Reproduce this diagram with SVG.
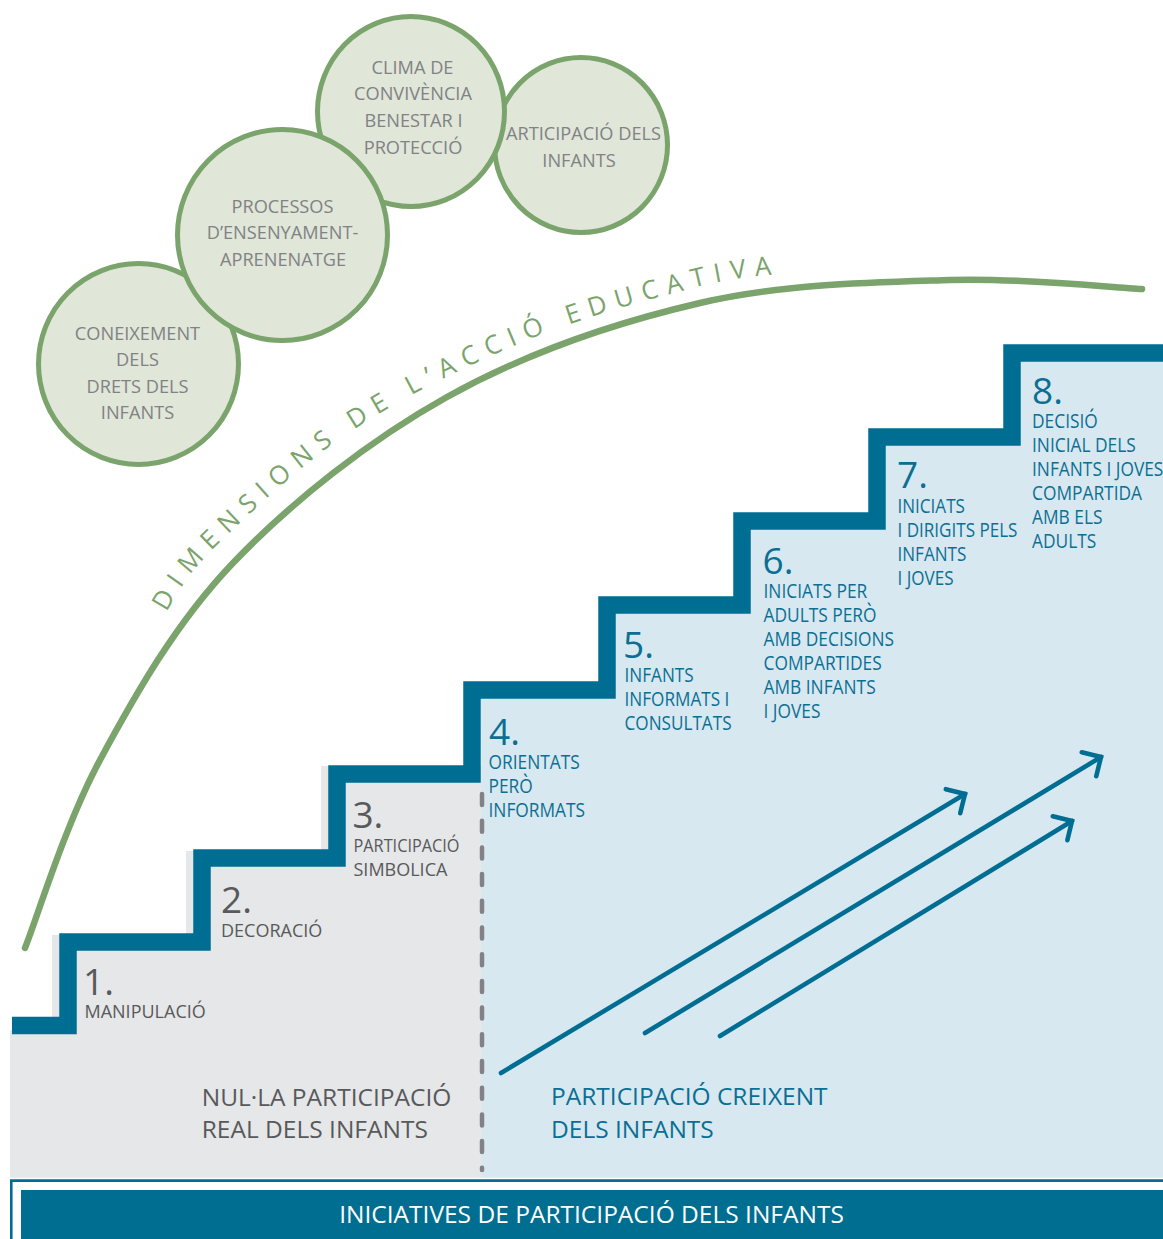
<svg xmlns="http://www.w3.org/2000/svg" width="1163" height="1239" viewBox="0 0 1163 1239">
<defs>
<style>
text{font-family:"Open Sans","Liberation Sans",sans-serif}
.ct{font-size:18.2px;fill:#808285;text-anchor:middle}
.circ{fill:#e0e6d8;stroke:#7aa46b;stroke-width:5}
.num{font-size:37px}
.gnum{fill:#58595b}
.bnum{fill:#0b6f93}
.gl{font-size:18px;fill:#58595b}
.bl{font-size:19.5px;fill:#0b6f93}
.big{font-size:24.5px}
.arr{fill:none;stroke:#006e93;stroke-width:4.6;stroke-linecap:round;marker-end:url(#chev)}
</style>
<marker id="chev" markerUnits="userSpaceOnUse" viewBox="-20 -20 25 40" markerWidth="25" markerHeight="40" refX="0" refY="0" orient="auto" overflow="visible">
<path d="M-14,-14 L0,0 L-14,14" fill="none" stroke="#006e93" stroke-width="4.6" stroke-linecap="round" stroke-linejoin="miter"/>
</marker>
<path id="textArc" d="M166,612 C174,601.3 183.3,578 214,548 C244.7,518 298.5,466.3 350,432 C401.5,397.7 465.2,366.2 523,342 C580.8,317.8 651,298.7 697,287 C743,275.3 765.2,276.2 799,272 C832.8,267.8 883.2,263.7 900,262"/>
</defs>

<!-- staircase background fills -->
<g id="stairs-bg">
<polygon points="10,1030 52,1030 52,935 186,935 186,851 321,851 321,766 482,766 482,1177.7 10,1177.7" fill="#e6e7e8"/>
<polygon points="481,690 607,690 607,605 742,605 742,521 877,521 877,437 1012,437 1012,353 1163,353 1163,1177.7 482,1177.7" fill="#d8e8f1"/>
<line x1="482" y1="794" x2="482" y2="1170" stroke="#808285" stroke-width="4.5" stroke-linecap="round" stroke-dasharray="11 15.7"/>
<polyline points="12,1025.5 68,1025.5 68,942 202,942 202,858 337,858 337,774 472,774 472,690 607,690 607,605 742,605 742,521 877,521 877,437 1012,437 1012,353 1170,353" fill="none" stroke="#006e93" stroke-width="17.5" stroke-linejoin="miter"/>
</g>

<!-- arc -->
<g id="arc">
<path d="M25,948 C37.5,916.7 65.3,824.2 100,760 C134.7,695.8 175.2,623.5 233,563 C290.8,502.5 369.2,440.3 447,397 C524.8,353.7 616.2,322.5 700,303 C783.8,283.5 876.3,282.3 950,280 C1023.7,277.7 1110,287.5 1142,289" fill="none" stroke="#7aa46b" stroke-width="6.5" stroke-linecap="round"/>
<text font-size="26" fill="#7aa46b" letter-spacing="8.9"><textPath href="#textArc">DIMENSIONS DE L’ACCIÓ EDUCATIVA</textPath></text>
</g>

<!-- circles -->
<g id="c-participacio">
<ellipse class="circ" cx="581" cy="145" rx="86.5" ry="87.5"/>
<text class="ct" x="506" y="140" style="text-anchor:start">ARTICIPACIÓ DELS</text>
<text class="ct" x="579" y="167">INFANTS</text>
</g>
<g id="c-clima">
<ellipse class="circ" cx="411" cy="111.5" rx="93.5" ry="95"/>
<text class="ct" x="412.5" y="74">CLIMA DE</text>
<text class="ct" x="413" y="100">CONVIVÈNCIA</text>
<text class="ct" x="413.5" y="127">BENESTAR I</text>
<text class="ct" x="413" y="154">PROTECCIÓ</text>
</g>
<g id="c-coneixement">
<ellipse class="circ" cx="138.5" cy="364" rx="100" ry="100.5"/>
<text class="ct" x="137.5" y="340">CONEIXEMENT</text>
<text class="ct" x="137.5" y="366">DELS</text>
<text class="ct" x="137.5" y="393">DRETS DELS</text>
<text class="ct" x="137.5" y="419">INFANTS</text>
</g>
<g id="c-processos">
<ellipse class="circ" cx="282.5" cy="235" rx="105" ry="105.5"/>
<text class="ct" x="282.5" y="213">PROCESSOS</text>
<text class="ct" x="282.5" y="239">D’ENSENYAMENT-</text>
<text class="ct" x="283" y="266">APRENENATGE</text>
</g>

<!-- steps -->
<g id="step1">
<text class="num gnum" x="83" y="995">1.</text>
<text class="gl" x="84.5" y="1018">MANIPULACIÓ</text>
</g>
<g id="step2">
<text class="num gnum" x="221" y="913">2.</text>
<text class="gl" x="221" y="937">DECORACIÓ</text>
</g>
<g id="step3">
<text class="num gnum" x="352.4" y="828">3.</text>
<text class="gl" x="353.5" y="852" textLength="106" lengthAdjust="spacingAndGlyphs">PARTICIPACIÓ</text>
<text class="gl" x="353.5" y="876">SIMBOLICA</text>
</g>
<g id="step4">
<text class="num bnum" x="489" y="745">4.</text>
<g transform="translate(488.5 0) scale(0.89 1)">
<text class="bl" x="0" y="769">ORIENTATS</text>
<text class="bl" x="0" y="793">PERÒ</text>
<text class="bl" x="0" y="817">INFORMATS</text>
</g>
</g>
<g id="step5">
<text class="num bnum" x="623" y="658">5.</text>
<g transform="translate(624.5 0) scale(0.88 1)">
<text class="bl" x="0" y="682">INFANTS</text>
<text class="bl" x="0" y="706">INFORMATS I</text>
<text class="bl" x="0" y="730">CONSULTATS</text>
</g>
</g>
<g id="step6">
<text class="num bnum" x="762.5" y="574">6.</text>
<g transform="translate(763.5 0) scale(0.89 1)">
<text class="bl" x="0" y="598.5">INICIATS PER</text>
<text class="bl" x="0" y="622.5">ADULTS PERÒ</text>
<text class="bl" x="0" y="646.5">AMB DECISIONS</text>
<text class="bl" x="0" y="670.5">COMPARTIDES</text>
<text class="bl" x="0" y="694.5">AMB INFANTS</text>
<text class="bl" x="0" y="718.5">I JOVES</text>
</g>
</g>
<g id="step7">
<text class="num bnum" x="897" y="488">7.</text>
<g transform="translate(897.5 0) scale(0.875 1)">
<text class="bl" x="0" y="513">INICIATS</text>
<text class="bl" x="0" y="537">I DIRIGITS PELS</text>
<text class="bl" x="0" y="561">INFANTS</text>
<text class="bl" x="0" y="585">I JOVES</text>
</g>
</g>
<g id="step8">
<text class="num bnum" x="1032" y="404">8.</text>
<g transform="translate(1032 0) scale(0.89 1)">
<text class="bl" x="0" y="428.5">DECISIÓ</text>
<text class="bl" x="0" y="452.5">INICIAL DELS</text>
<text class="bl" x="0" y="476.5">INFANTS I JOVES</text>
<text class="bl" x="0" y="500.5">COMPARTIDA</text>
<text class="bl" x="0" y="524.5">AMB ELS</text>
<text class="bl" x="0" y="548.5">ADULTS</text>
</g>
</g>

<!-- arrows -->
<g id="connectors">
<line class="arr" x1="501" y1="1073" x2="965" y2="794"/>
<line class="arr" x1="645" y1="1033" x2="1101" y2="757"/>
<line class="arr" x1="720" y1="1036" x2="1072" y2="821"/>
</g>

<!-- zone labels -->
<g id="zone-nulla">
<text class="big" x="201.7" y="1106" fill="#58595b">NUL·LA PARTICIPACIÓ</text>
<text class="big" x="201.7" y="1138" fill="#58595b">REAL DELS INFANTS</text>
</g>
<g id="zone-creixent">
<text class="big" x="551" y="1105" fill="#0b6f93">PARTICIPACIÓ CREIXENT</text>
<text class="big" x="551" y="1138" fill="#0b6f93">DELS INFANTS</text>
</g>

<!-- bottom bar -->
<g id="bottom-bar">
<path d="M11.3,1239 V1180.6 H1163" fill="none" stroke="#006e93" stroke-width="2.6"/>
<rect x="21" y="1190" width="1142" height="49" fill="#006e91"/>
<text x="591.5" y="1223" font-size="24.5" fill="#ffffff" text-anchor="middle">INICIATIVES DE PARTICIPACIÓ DELS INFANTS</text>
</g>
</svg>
